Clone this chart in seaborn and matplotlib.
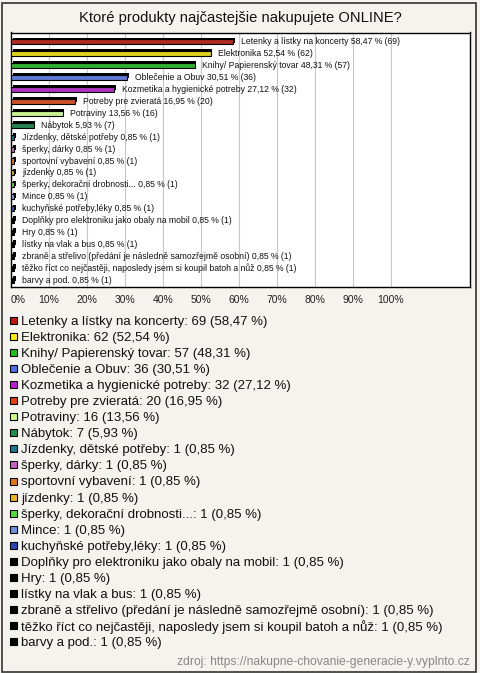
import matplotlib
matplotlib.use("Agg")
import matplotlib.pyplot as plt
import matplotlib.patheffects as pe
from matplotlib.patches import Rectangle
import seaborn as sns
import pandas as pd

categories = [
    "Letenky a lístky na koncerty",
    "Elektronika",
    "Knihy/ Papierenský tovar",
    "Oblečenie a Obuv",
    "Kozmetika a hygienické potreby",
    "Potreby pre zvieratá",
    "Potraviny",
    "Nábytok",
    "Jízdenky, dětské potřeby",
    "šperky, dárky",
    "sportovní vybavení",
    "jízdenky",
    "šperky, dekorační drobnosti...",
    "Mince",
    "kuchyňské potřeby,léky",
    "Doplňky pro elektroniku jako obaly na mobil",
    "Hry",
    "lístky na vlak a bus",
    "zbraně a střelivo (předání je následně samozřejmě osobní)",
    "těžko říct co nejčastěji, naposledy jsem si koupil batoh a nůž",
    "barvy a pod.",
]
counts = [69, 62, 57, 36, 32, 20, 16, 7, 1, 1, 1, 1, 1, 1, 1, 1, 1, 1, 1, 1, 1]
percents = [58.47, 52.54, 48.31, 30.51, 27.12, 16.95, 13.56, 5.93,
            0.85, 0.85, 0.85, 0.85, 0.85, 0.85, 0.85, 0.85, 0.85, 0.85, 0.85, 0.85, 0.85]
colors = ["#c4170c", "#ffee00", "#18c418", "#4a70e8", "#c01ad8", "#e8420c",
          "#ccff80", "#189050", "#187890", "#c860c8", "#e07810", "#e8b810",
          "#50e030", "#6a94e0", "#2846b4",
          "#000000", "#000000", "#000000", "#000000", "#000000", "#000000"]
tick_labels = ["0%", "10%", "20%", "30%", "40%", "50%", "60%", "70%", "80%", "90%", "100%"]
title = "Ktoré produkty najčastejšie nakupujete ONLINE?"
source = "zdroj: https://nakupne-chovanie-generacie-y.vyplnto.cz"

def fmt(v):
    return f"{v:.2f}".replace(".", ",")

df = pd.DataFrame({"cat": categories, "pct": percents, "n": counts})

sns.set_theme(style="white")
plt.rcParams["font.family"] = ["Liberation Sans", "DejaVu Sans"]

BG = "#f4f3ee"
fig = plt.figure(figsize=(4.8, 6.73), dpi=100, facecolor=BG)
W, H = 480, 673
fig.patches.append(Rectangle((2 / W, 1.5 / H), 474 / W, 669 / H, transform=fig.transFigure,
                             fill=False, edgecolor="#333333", linewidth=1.2))

ax = fig.add_axes([11 / W, 1 - 287 / H, 459 / W, (287 - 32.5) / H])
ax.set_facecolor("white")

sns.barplot(data=df, x="pct", y="cat", hue="cat", palette=colors, legend=False,
            orient="h", width=0.42, edgecolor="black", linewidth=0.8, ax=ax, zorder=3)

for p in ax.patches:
    p.set_path_effects([pe.SimplePatchShadow(offset=(1.2, 1.2), shadow_rgbFace="black", alpha=1),
                        pe.Normal()])

for i, (c, v, n) in enumerate(zip(categories, percents, counts)):
    ax.annotate(f"{c} {fmt(v)} % ({n})", xy=(v, i), xytext=(5.5, 0), textcoords="offset points",
                va="center", ha="left", fontsize=6.2, color="#111111")

ax.set_xlim(0, 120.8)
ax.set_ylim(len(categories) - 1 + 0.56, -0.77)
ax.set_xticks([i * 10 for i in range(11)])
ax.set_xticklabels(tick_labels, fontsize=7.5, color="#222222")
ax.get_xticklabels()[0].set_horizontalalignment("left")
ax.tick_params(axis="x", length=0, pad=6)
ax.set_yticks([])
ax.set_xlabel("")
ax.set_ylabel("")
ax.grid(axis="x", color="#c8c8c8", linewidth=0.8, zorder=0)
ax.set_axisbelow(True)
for s in ax.spines.values():
    s.set_color("black")
    s.set_linewidth(1)

fig.text(240 / W, 1 - 18 / H, title, ha="center", va="center", fontsize=10.6, color="#111111")

# legend (one row per category, uniform spacing)
row0, step = 320.5, 16.05
for i, (c, n, v, col) in enumerate(zip(categories, counts, percents, colors)):
    yc = row0 + i * step
    fig.patches.append(Rectangle((10 / W, 1 - (yc + 3.5) / H), 7 / W, 7 / H,
                                 transform=fig.transFigure, facecolor=col,
                                 edgecolor="black", linewidth=0.8))
    fig.text(21 / W, 1 - yc / H, f"{c}: {n} ({fmt(v)} %)", ha="left", va="center_baseline",
             fontsize=9.5, color="#111111")

fig.text(470 / W, 1 - 662 / H, source, ha="right", va="center", fontsize=8.7, color="#888888")

fig.savefig("out.png", dpi=100, facecolor=BG)
